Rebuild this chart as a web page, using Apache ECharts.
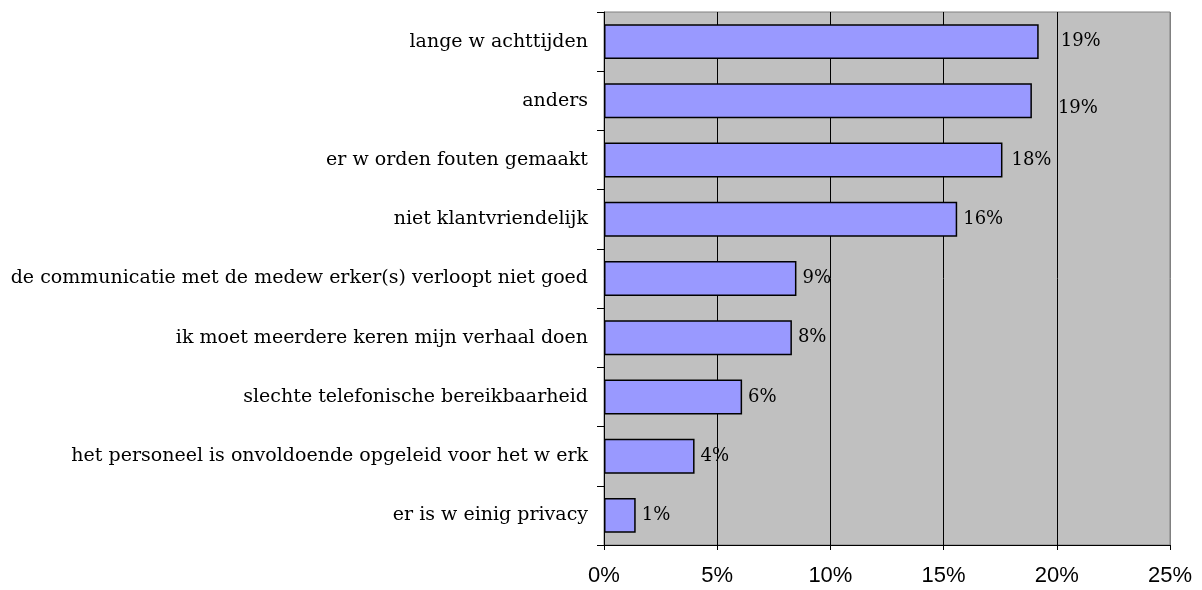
<!DOCTYPE html>
<html>
<head>
<meta charset="utf-8">
<script src="https://cdn.jsdelivr.net/npm/echarts@6/dist/echarts.min.js"></script>
<style>
  html, body { margin: 0; padding: 0; background: #fff; }
  #chart { width: 1202px; height: 590px; }
</style>
</head>
<body>
<div id="chart"></div>
<script>
// categorieën van boven naar beneden
const categories = [
  'lange w achttijden',
  'anders',
  'er w orden fouten gemaakt',
  'niet klantvriendelijk',
  'de communicatie met de medew erker(s) verloopt niet goed',
  'ik moet meerdere keren mijn verhaal doen',
  'slechte telefonische bereikbaarheid',
  'het personeel is onvoldoende opgeleid voor het w erk',
  'er is w einig privacy'
]
// percentages
const values = [19.2, 18.9, 17.6, 15.6, 8.5, 8.3, 6.1, 4.0, 1.4]
// labels zoals in het origineel
const valueLabels = ['19%', '19%', '18%', '16%', '9%', '8%', '6%', '4%', '1%']
const xTicks = [0, 5, 10, 15, 20, 25]

// handmatig verschoven labels in het origineel
const labelTweaks = {
  0: { distance: 22 },
  1: { distance: 26, offset: [0, 7] },
  2: { distance: 9 }
}

const serif = '"DejaVu Serif", "Liberation Serif", serif'

const chart = echarts.init(document.getElementById('chart'))

const option = {
  animation: false,
  grid: {
    left: 604,
    right: 32,
    top: 12,
    bottom: 45,
    show: true,
    backgroundColor: '#C0C0C0',
    borderColor: '#808080',
    borderWidth: 1
  },
  xAxis: {
    type: 'value',
    min: xTicks[0],
    max: xTicks[xTicks.length - 1],
    interval: 5,
    axisLine: { show: true, lineStyle: { color: '#000', width: 1 } },
    axisTick: { show: true, length: 5, lineStyle: { color: '#000' } },
    axisLabel: {
      formatter: (v) => v + '%',
      fontFamily: '"Liberation Sans", Arial, sans-serif',
      fontSize: 22,
      color: '#000',
      margin: 20
    },
    splitLine: {
      show: true,
      lineStyle: { color: ['#000', '#000', '#000', '#000', '#000', '#808080'], width: 1 }
    }
  },
  yAxis: {
    type: 'category',
    inverse: true,
    data: categories,
    axisLine: { show: true, lineStyle: { color: '#000', width: 1 } },
    axisTick: { show: true, length: 7, lineStyle: { color: '#000' } },
    axisLabel: {
      fontFamily: serif,
      fontSize: 19,
      color: '#000',
      margin: 16
    },
    splitLine: { show: false }
  },
  series: [
    {
      type: 'bar',
      barWidth: '59%',
      data: values.map((v, i) => ({
        value: v,
        label: labelTweaks[i] || {}
      })),
      itemStyle: {
        color: '#9999FF',
        borderColor: '#000',
        borderWidth: 1.5
      },
      label: {
        show: true,
        position: 'right',
        distance: 6,
        formatter: (p) => valueLabels[p.dataIndex],
        fontFamily: serif,
        fontSize: 18,
        color: '#000'
      }
    }
  ]
}

chart.setOption(option)
</script>
</body>
</html>
